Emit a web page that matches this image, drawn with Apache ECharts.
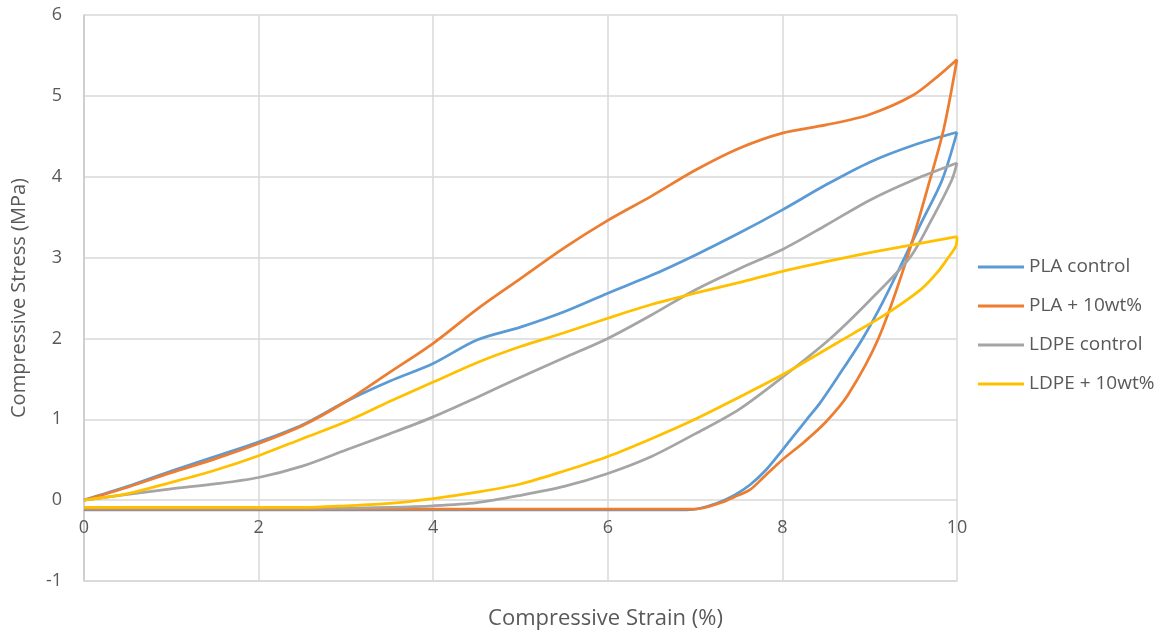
<!DOCTYPE html>
<html>
<head>
<meta charset="utf-8">
<script src="https://cdn.jsdelivr.net/npm/echarts@6/dist/echarts.min.js"></script>
<style>
  html, body { margin: 0; padding: 0; background: #fff; }
  #chart { width: 1174px; height: 633px; }
</style>
</head>
<body>
<div id="chart"></div>
<script>
// Compression loading / unloading cycles, [strain %, stress MPa]
const seriesNames = ['PLA control', 'PLA + 10wt%', 'LDPE control', 'LDPE + 10wt%'];
const seriesColors = ['#5B9BD5', '#ED7D31', '#A5A5A5', '#FFC000'];

const plaControlLoading = [
  [0, 0], [0.5, 0.17], [1, 0.36], [1.5, 0.54], [2, 0.72], [2.5, 0.93], [3, 1.22],
  [3.5, 1.47], [4, 1.69], [4.5, 1.98], [5, 2.14], [5.5, 2.33], [6, 2.56], [6.5, 2.78],
  [7, 3.03], [7.5, 3.3], [8, 3.59], [8.5, 3.9], [9, 4.18], [9.5, 4.39], [10, 4.55]
];
const plaControlUnloading = [
  [10, 4.55], [9.83, 3.96], [9.6, 3.45], [9.4, 3.0], [9.15, 2.45], [8.92, 2.0],
  [8.65, 1.55], [8.43, 1.2], [8.28, 1.0], [8.0, 0.62], [7.8, 0.36], [7.63, 0.19],
  [7.45, 0.06], [7.25, -0.04], [7.06, -0.1], [6.9, -0.12], [5, -0.12], [3, -0.12], [0, -0.12]
];

const pla10Loading = [
  [0, 0], [0.5, 0.16], [1, 0.34], [1.5, 0.51], [2, 0.7], [2.5, 0.92], [3, 1.22],
  [3.5, 1.58], [4, 1.94], [4.5, 2.36], [5, 2.74], [5.5, 3.12], [6, 3.46], [6.5, 3.76],
  [7, 4.08], [7.5, 4.35], [8, 4.54], [8.5, 4.64], [9, 4.77], [9.5, 5.01], [9.8, 5.26], [10, 5.45]
];
const pla10Unloading = [
  [10, 5.45], [9.85, 4.6], [9.69, 3.96], [9.43, 3.0], [9.1, 2.0], [8.75, 1.3],
  [8.5, 0.97], [8.25, 0.72], [8.0, 0.5], [7.8, 0.3], [7.63, 0.13], [7.45, 0.04],
  [7.3, -0.03], [7.15, -0.08], [7.0, -0.11], [6.8, -0.11], [5, -0.11], [3, -0.11], [0, -0.11]
];

const ldpeControlLoading = [
  [0, 0], [0.5, 0.07], [1, 0.14], [1.5, 0.2], [2, 0.28], [2.5, 0.42], [3, 0.62],
  [3.5, 0.82], [4, 1.03], [4.5, 1.27], [5, 1.52], [5.5, 1.76], [6, 2.0], [6.5, 2.29],
  [7, 2.6], [7.5, 2.86], [8, 3.1], [8.5, 3.4], [9, 3.71], [9.5, 3.96], [10, 4.17]
];
const ldpeControlUnloading = [
  [10, 4.17], [9.94, 3.96], [9.7, 3.45], [9.46, 3.0], [9.0, 2.47], [8.55, 2.0],
  [8.0, 1.52], [7.5, 1.12], [7.0, 0.82], [6.5, 0.54],
  [6.0, 0.33], [5.5, 0.17], [5.0, 0.06], [4.5, -0.03], [4.0, -0.07], [3.5, -0.09],
  [3.0, -0.1], [0, -0.1]
];

const ldpe10Loading = [
  [0, 0], [0.5, 0.08], [1, 0.22], [1.5, 0.37], [2, 0.55], [2.5, 0.76], [3, 0.97],
  [3.5, 1.22], [4, 1.46], [4.5, 1.7], [5, 1.9], [5.5, 2.07], [6, 2.25], [6.5, 2.42],
  [7, 2.56], [7.5, 2.69], [8, 2.83], [8.5, 2.95], [9, 3.06], [9.5, 3.16], [10, 3.26]
];
const ldpe10Unloading = [
  [10, 3.26], [9.99, 3.15], [9.9, 3.0], [9.77, 2.81], [9.58, 2.6], [9.2, 2.31],
  [8.81, 2.06], [8.43, 1.82], [8.0, 1.55], [7.5, 1.27], [7.0, 1.0], [6.5, 0.76],
  [6.0, 0.54], [5.5, 0.36], [5.0, 0.2], [4.5, 0.1], [4.0, 0.02], [3.5, -0.04],
  [3.0, -0.07], [2.5, -0.09], [0, -0.09]
];

const cycles = [
  [plaControlLoading, plaControlUnloading],
  [pla10Loading, pla10Unloading],
  [ldpeControlLoading, ldpeControlUnloading],
  [ldpe10Loading, ldpe10Unloading]
];

const xTicks = { min: 0, max: 10, interval: 2 };
const yTicks = { min: -1, max: 6, interval: 1 };

const FONT = '"Open Sans", "Noto Sans", sans-serif';
const TEXT = '#595959';
const GRID = '#d9d9d9';

const series = [];
cycles.forEach(function (pair, i) {
  pair.forEach(function (branch) {
    series.push({
      name: seriesNames[i],
      type: 'line',
      data: branch,
      showSymbol: false,
      symbol: 'none',
      smooth: 0.3,
      lineStyle: { color: seriesColors[i], width: 2.75 },
      itemStyle: { color: seriesColors[i] },
      emphasis: { disabled: true },
      z: 2 + i
    });
  });
});

const chart = echarts.init(document.getElementById('chart'), null, { renderer: 'canvas' });
chart.setOption({
  animation: false,
  backgroundColor: '#ffffff',
  grid: { left: 84, right: 217, top: 15, bottom: 52, containLabel: false, outerBoundsMode: 'none' },
  xAxis: {
    type: 'value',
    min: xTicks.min, max: xTicks.max, interval: xTicks.interval,
    name: 'Compressive Strain (%)',
    nameLocation: 'middle',
    nameGap: 27,
    // title is centred on the whole chart area rather than the plot
    nameTextStyle: { color: TEXT, fontSize: 22, fontFamily: FONT, padding: [0, 0, 0, 170] },
    axisLine: { show: true, onZero: false, lineStyle: { color: GRID, width: 1.5 } },
    axisTick: { show: false },
    // tick labels sit just under the zero-stress line
    axisLabel: { color: TEXT, fontSize: 18, fontFamily: FONT, margin: -62 },
    splitLine: { show: true, lineStyle: { color: GRID, width: 1.5 } }
  },
  yAxis: {
    type: 'value',
    min: yTicks.min, max: yTicks.max, interval: yTicks.interval,
    name: 'Compressive Stress (MPa)',
    nameLocation: 'middle',
    nameGap: 55,
    nameRotate: 90,
    nameTextStyle: { color: TEXT, fontSize: 20, fontFamily: FONT },
    axisLine: { show: true, onZero: false, lineStyle: { color: '#c8c8c8', width: 1.5 } },
    axisTick: { show: false },
    axisLabel: { color: TEXT, fontSize: 18, fontFamily: FONT, margin: 22 },
    splitLine: { show: true, lineStyle: { color: GRID, width: 1.5 } }
  },
  legend: {
    data: seriesNames,
    orient: 'vertical',
    left: 973,
    top: 251,
    icon: 'rect',
    itemWidth: 46,
    itemHeight: 3,
    itemGap: 17,
    textStyle: { color: TEXT, fontSize: 19, fontFamily: FONT, lineHeight: 22 }
  },
  series: series
});
</script>
</body>
</html>
